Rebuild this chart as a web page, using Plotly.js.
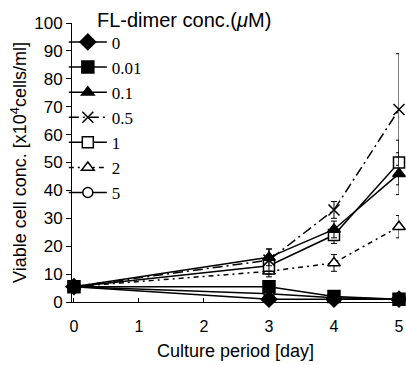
<!DOCTYPE html>
<html>
<head>
<meta charset="utf-8">
<script src="https://cdn.plot.ly/plotly-3.0.1.min.js"></script>
<style>html,body{margin:0;padding:0;background:#fff;}#chart{width:406px;height:365px;}</style>
</head>
<body>
<div id="chart"></div>
<script>
const days = [0, 3, 4, 5];
const concLabels = ["0", "0.01", "0.1", "0.5", "1", "2", "5"];
const conc0 = [5.5, 1, 1, 1];
const conc001 = [5.5, 5.5, 2, 1];
const conc01 = [5.5, 16, 26, 46];
const conc05 = [5.5, 15, 33, 69];
const conc1 = [5.5, 13, 24, 50];
const conc2 = [5.5, 11, 14, 27];
const conc5 = [5.5, 3, 1.5, 1];
const err01 = [0, 3, 3, 7.5];
const err05 = [0, 4, 3, 20];
const err1 = [0, 3, 3, 8];
const err2 = [0, 2, 3, 4];

const seriesValues = [conc0, conc001, conc01, conc05, conc1, conc2, conc5];
const seriesErr = [null, null, err01, err05, err1, err2, null];
const symbols = ["diamond", "square", "triangle-up", "x-thin-open", "square", "triangle-up", "circle"];
const fills = ["black", "black", "black", "black", "white", "white", "white"];
const sizes = [12, 12, 11, 11, 11, 11, 10];
const dashes = ["solid", "solid", "solid", "10px,4px,2px,4px", "solid", "5px,4px,2px,4px", "solid"];
const drawOrder = [6, 5, 4, 3, 2, 0, 1];

const traces = drawOrder.map(i => {
  const t = {
    x: days, y: seriesValues[i], type: "scatter", mode: "lines+markers",
    name: concLabels[i], legendrank: i + 1, legendgroup: "g" + i,
    line: {color: "black", width: 1.5, dash: dashes[i]},
    marker: {symbol: symbols[i], size: sizes[i], color: fills[i], line: {color: "black", width: 1.5}},
    cliponaxis: false
  };
  if (seriesErr[i]) {
    t.error_y = {type: "data", array: seriesErr[i], visible: true, color: "black", thickness: 1, width: 3};
  }
  return t;
});

const layout = {
  width: 406, height: 365,
  margin: {l: 72, r: 7, t: 23, b: 63},
  paper_bgcolor: "white", plot_bgcolor: "white",
  font: {family: "Liberation Sans, Arial, sans-serif", color: "black", size: 15},
  showlegend: true,
  legend: {
    x: -0.025, y: 0.995, xanchor: "left", yanchor: "top",
    bgcolor: "rgba(0,0,0,0)", tracegroupgap: 0,
    font: {family: "Liberation Serif, Times New Roman, serif", size: 17, color: "black"},
    itemwidth: 38
  },
  xaxis: {
    range: [-0.03, 5], showline: true, linecolor: "black", linewidth: 1,
    ticks: "inside", ticklen: 4, tickcolor: "black", dtick: 1, tick0: 0,
    showgrid: false, zeroline: false,
    tickfont: {size: 16}, ticklabelstandoff: 10,
    title: {text: "Culture period [day]", font: {size: 18}, standoff: 10}
  },
  yaxis: {
    range: [0, 100], showline: true, linecolor: "black", linewidth: 1,
    ticks: "outside", ticklen: 5, tickcolor: "black", dtick: 10, tick0: 0,
    showgrid: false, zeroline: false,
    tickfont: {size: 17}, ticklabelstandoff: 0,
    title: {text: "Viable cell conc. [x10<sup>4</sup>cells/ml]", font: {size: 18}, standoff: 2}
  },
  annotations: [{
    text: "FL-dimer conc.(<i>μ</i>M)", xref: "paper", yref: "paper",
    x: 0.07, y: 1.01, xanchor: "left", yanchor: "middle",
    showarrow: false, font: {size: 20}
  }]
};

Plotly.newPlot("chart", traces, layout, {displayModeBar: false, staticPlot: true});
</script>
</body>
</html>
